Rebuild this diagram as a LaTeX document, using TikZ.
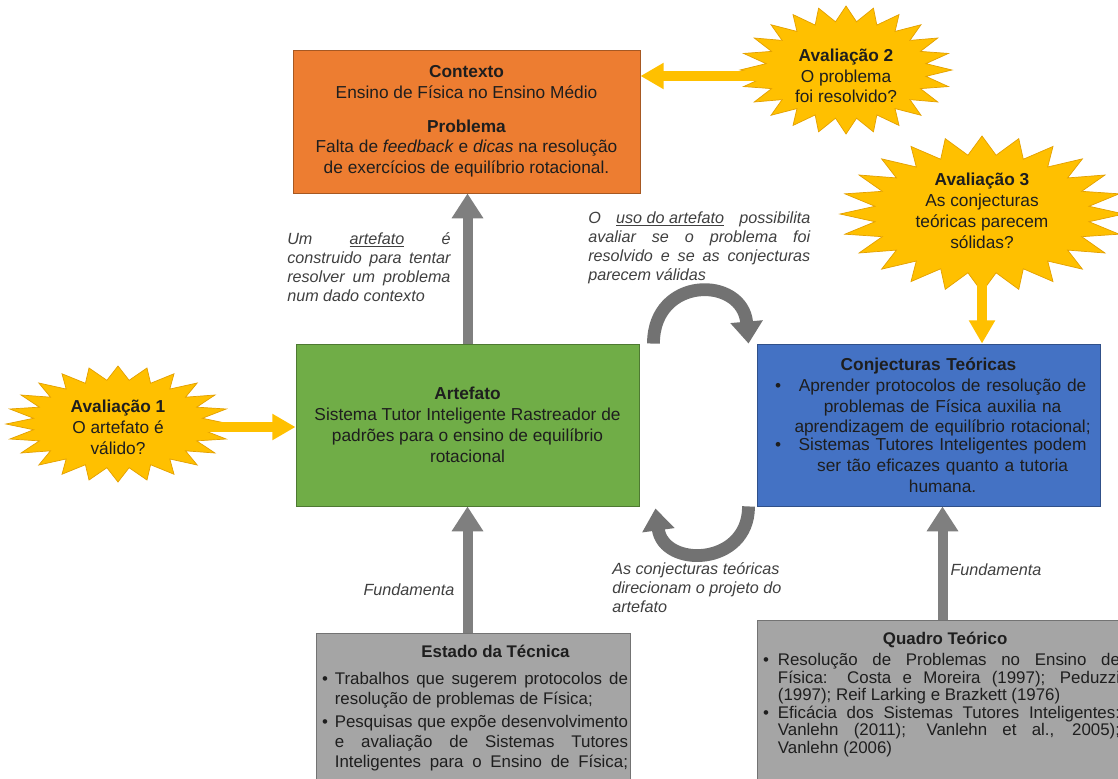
\documentclass[tikz,border=0pt]{standalone}
\usepackage{fontspec}
\setmainfont{Liberation Sans}
\usetikzlibrary{arrows.meta,calc}

\definecolor{laranja}{HTML}{ED7D31}
\definecolor{verde}{HTML}{70AD47}
\definecolor{azul}{HTML}{4472C4}
\definecolor{cinza}{HTML}{A5A5A5}
\definecolor{ouro}{HTML}{FFC000}
\definecolor{borda}{HTML}{E3A000}
\definecolor{seta}{HTML}{7F7F7F}
\definecolor{nota}{HTML}{404040}
\definecolor{texto}{HTML}{1E1E1E}

\newcommand\fontecaixa{\fontsize{12.3pt}{14.8pt}\selectfont}
\newcommand\fontenota{\fontsize{11.5pt}{13.6pt}\selectfont\itshape}
% bullet with hanging text: #1 bullet offset, #2 hang, #3 text
\newcommand\topico[3]{\par\noindent\makebox[#2][l]{\hspace*{#1}\textbullet}%
  \parbox[t]{\dimexpr\linewidth-#2\relax}{\leftskip=0pt\rightskip=0pt
    \parfillskip=0pt plus 1fil\hyphenpenalty=10000\relax #3}\par}
% 24-point star: centre (#1,#2), radii #3 and #4
\newcommand\estrela[4]{\filldraw[estrela] plot[variable=\k, samples at={0,...,47}]
  ({#1+#3*(1-0.24*mod(\k,2))*cos(7.5*\k)}, {#2+#4*(1-0.24*mod(\k,2))*sin(7.5*\k)}) -- cycle;}

\tikzset{
  caixa/.style={draw=#1!70!black, fill=#1, line width=0.6pt, inner sep=0pt,
    align=center, text=texto, font=\fontecaixa},
  estrela/.style={fill=ouro, draw=borda, line width=0.5pt},
  aval/.style={align=center, text=texto, font=\fontecaixa, inner sep=1pt},
  nota/.style={text=nota, font=\fontenota, inner sep=0pt},
  setaouro/.style={draw=ouro, line width=0.25cm, -{Triangle[width=0.62cm,length=0.58cm]}},
  setacinza/.style={draw=seta, line width=0.25cm, -{Triangle[width=0.75cm,length=0.62cm]}},
  setacurva/.style={draw=seta!90!black, line width=0.32cm, -{Triangle[width=0.78cm,length=0.55cm]}},
}

\begin{document}
\begin{tikzpicture}[x=0.025cm, y=-0.025cm]
\path[use as bounding box, fill=white] (0,0) rectangle (1118,778);

% stars first, the texts go on top
\estrela{118}{424}{112}{58}
\estrela{846}{70}{106}{64}
\estrela{982}{214}{142}{78}

\node[caixa=laranja, minimum width=8.675cm, minimum height=3.575cm] (contexto) at (466.5,121.5)
  {\textbf{Contexto}\\ Ensino de Física no Ensino Médio\\[9pt]
   \textbf{Problema}\\ Falta de \textit{feedback} e \textit{dicas} na resolução\\
   de exercícios de equilíbrio rotacional.};

\node[caixa=verde, minimum width=8.575cm, minimum height=4.05cm] (artefato) at (467.5,425)
  {\textbf{Artefato}\\ Sistema Tutor Inteligente Rastreador de\\
   padrões para o ensino de equilíbrio\\ rotacional};

\node[caixa=azul, minimum width=8.575cm, minimum height=4.05cm, text width=8.475cm] (conjecturas) at (928.5,425)
  {\textbf{Conjecturas Teóricas}\par
   \topico{11.5pt}{20pt}{\centering Aprender protocolos de resolução de\\
     problemas de Física auxilia na\\ aprendizagem de equilíbrio rotacional;}
   \topico{11.5pt}{20pt}{\centering Sistemas Tutores Inteligentes podem\\
     ser tão eficazes quanto a tutoria\\ humana.}};

\node[caixa=cinza, anchor=north, minimum width=7.85cm, text width=7.75cm, inner ysep=0.3cm,
  align=justify, font=\fontsize{12pt}{14.2pt}\selectfont] (estado) at (473,633)
  {{\centering\hspace*{32pt}\textbf{Estado da Técnica}\par}\vspace{5pt}
   \topico{3pt}{12pt}{Trabalhos que sugerem protocolos de\linebreak
     resolução de problemas de Física;}\vspace{4pt}
   \topico{3pt}{12pt}{\parfillskip=0pt Pesquisas que expõe desenvolvimento\linebreak
     e avaliação de Sistemas Tutores\linebreak Inteligentes para o Ensino de Física;}\vspace*{1.2cm}};

\node[caixa=cinza, anchor=north, minimum width=9.125cm, text width=9.025cm, inner ysep=0.3cm,
  align=justify, font=\fontsize{12pt}{12.6pt}\selectfont] (quadro) at (939.5,620)
  {{\centering\hspace*{8pt}\textbf{Quadro Teórico}\par}\vspace{2pt}
   \topico{3pt}{13.5pt}{Resolução de Problemas no Ensino de\linebreak
     Física: Costa e Moreira (1997); Peduzzi\linebreak (1997); Reif Larking e Brazkett (1976)}
   \topico{3pt}{13.5pt}{Eficácia dos Sistemas Tutores Inteligentes:\linebreak
     Vanlehn (2011); Vanlehn et al., 2005);\linebreak Vanlehn (2006)}\vspace*{1.2cm}};

\node[aval] (aval1) at (118,427) {\textbf{Avaliação 1}\\ O artefato é\\ válido?};
\node[aval] (aval2) at (846,76) {\textbf{Avaliação 2}\\ O problema\\ foi resolvido?};
\node[aval] (aval3) at (982,211) {\textbf{Avaliação 3}\\ As conjecturas\\ teóricas parecem\\ sólidas?};

% arrows
\draw[setaouro] (aval1.east) -- (aval1.east -| artefato.west);
\draw[setaouro] (aval2.west) -- (aval2.west -| contexto.east);
\draw[setaouro] (aval3.south) -- (aval3.south |- conjecturas.north);
\draw[setacinza] (artefato.north) -- (artefato.north |- contexto.south);
\draw[setacinza] (estado.north -| artefato.south) -- (artefato.south);
\draw[setacinza] ($(quadro.north)+(3,0)$) -- ($(quadro.north |- conjecturas.south)+(3,0)$);
\draw[setacurva] ($(artefato.north east)+(14,0)$) .. controls +(0,-68) and +(-6,-68) .. ($(conjecturas.north west)+(-8,0)$);
\draw[setacurva] ($(conjecturas.south west)+(-8,0)$) .. controls +(0,60) and +(8,60) .. ($(artefato.south east)+(16,2)$);

% labels
\node[nota, text width=4.08cm, align=justify, anchor=north west] (nota1) at (287,232)
  {Um \underline{artefato} é\linebreak construido para tentar\linebreak resolver um problema\linebreak num dado contexto};
\node[nota, text width=5.55cm, align=justify, anchor=north west] (nota2) at (588,211)
  {O \underline{uso do artefato} possibilita\linebreak avaliar se o problema foi\linebreak resolvido e se as conjecturas\linebreak parecem válidas};
\node[nota, align=left, anchor=north west] (nota3) at (612,562)
  {As conjecturas teóricas\\ direcionam o projeto do\\ artefato};
\node[nota] (fund1) at (409,590) {Fundamenta};
\node[nota] (fund2) at (996,570) {Fundamenta};
\end{tikzpicture}
\end{document}
